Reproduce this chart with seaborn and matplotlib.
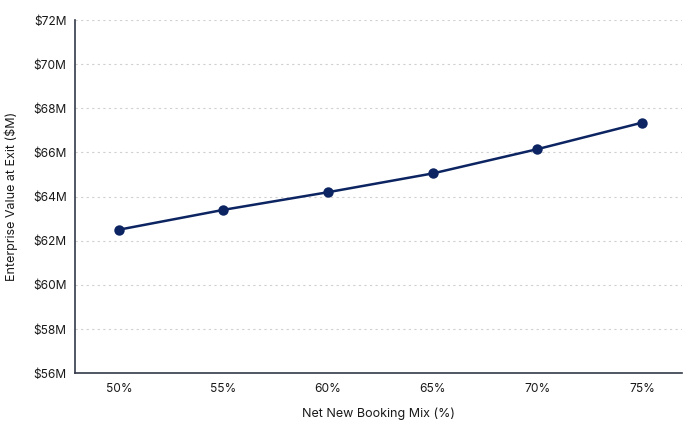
#!/usr/bin/env python3

import matplotlib.pyplot as plt
from matplotlib.ticker import FuncFormatter
import pandas as pd
import seaborn as sns

sns.set_style("white")
plt.rcParams['font.family'] = ['Inter', 'DejaVu Sans']

mix = [50, 55, 60, 65, 70, 75]
ev = [62.5, 63.4, 64.2, 65.05, 66.15, 67.35]

df = pd.DataFrame({'mix': mix, 'ev': ev})

fig = plt.figure(figsize=(7, 4.26), dpi=100)
ax = fig.add_axes([0.107, 0.124, 0.867, 0.829])

sns.lineplot(ax=ax, data=df, x='mix', y='ev', color='#0c2461', linewidth=1.8,
             marker='o', markersize=7.5, markeredgewidth=0, markerfacecolor='#0c2461')

ax.set_ylim(56, 72)
ax.set_yticks(range(56, 73, 2))
ax.yaxis.set_major_formatter(FuncFormatter(lambda v, p: f"${v:.0f}M"))
ax.set_xlim(47.9, 76.9)
ax.set_xticks(mix)
ax.xaxis.set_major_formatter(FuncFormatter(lambda v, p: f"{v:.0f}%"))

ax.grid(axis='y', linestyle=(0, (2, 3)), color='#d0d0d0', linewidth=0.8)
ax.grid(axis='x', visible=False)
ax.set_axisbelow(True)

for s in ['top', 'right']:
    ax.spines[s].set_visible(False)
for s in ['left', 'bottom']:
    ax.spines[s].set_color('#333a4a')
    ax.spines[s].set_linewidth(1.2)

ax.tick_params(axis='y', length=0, pad=6, labelsize=8.6, colors='#1a1a1a')
ax.tick_params(axis='x', length=0, pad=7, labelsize=8.6, colors='#1a1a1a')
ax.set_xlabel("Net New Booking Mix (%)", fontsize=9, color='#1a1a1a', labelpad=9)
ax.set_ylabel("Enterprise Value at Exit ($M)", fontsize=9, color='#1a1a1a', labelpad=11)

plt.savefig("out.png", dpi=100)
